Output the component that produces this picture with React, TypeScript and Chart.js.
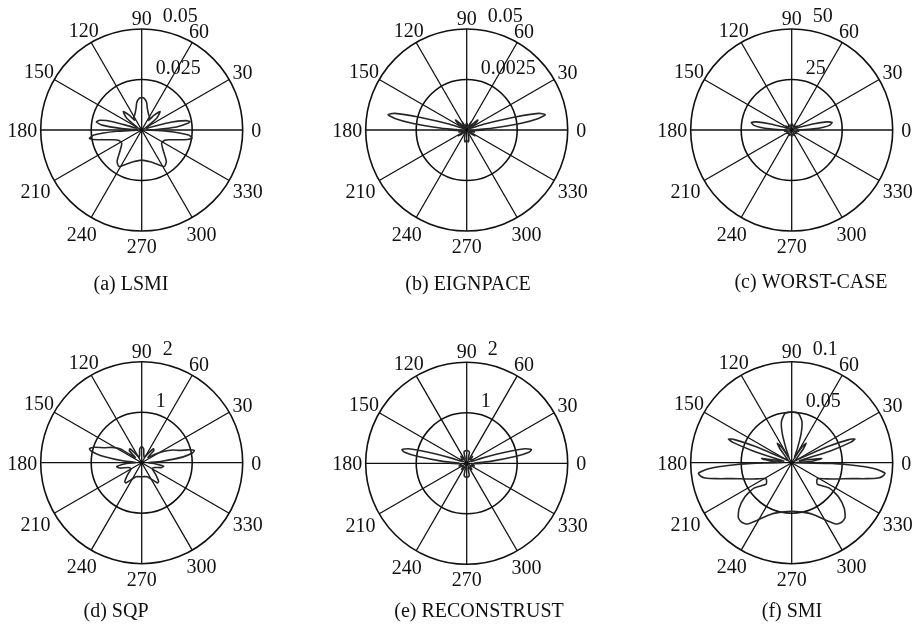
import React, { useEffect, useRef } from 'react';
import { Chart, registerables } from 'chart.js';

Chart.register(...registerables);

// ---------- data ----------
const angleTicks = [0, 30, 60, 90, 120, 150, 180, 210, 240, 270, 300, 330];

// (a) LSMI
const lsmiAngles = [0, 2, 5, 8, 10, 12, 15, 20, 30, 38, 45, 50, 54, 58, 66, 75, 80, 86, 90, 94, 100, 105, 114, 122, 126, 130, 135, 142, 150, 160, 164, 167, 170, 173, 176, 180, 183, 186, 189, 191, 194, 199, 205, 214, 224, 232, 238, 245, 255, 270, 285, 295, 302, 308, 316, 326, 336, 341, 346, 349, 351, 354, 357, 360];
const lsmiGain = [0.002, 0.0074, 0.0173, 0.0228, 0.0243, 0.0223, 0.0149, 0.0025, 0.0025, 0.0094, 0.0129, 0.0094, 0.0059, 0.0074, 0.0084, 0.0109, 0.0139, 0.0158, 0.0161, 0.0158, 0.0139, 0.0109, 0.0084, 0.0074, 0.0059, 0.0094, 0.0129, 0.0094, 0.0025, 0.0025, 0.0149, 0.0213, 0.0228, 0.0198, 0.0099, 0.002, 0.0124, 0.0238, 0.0262, 0.0248, 0.0198, 0.0149, 0.0124, 0.0119, 0.0149, 0.0198, 0.0213, 0.0188, 0.0163, 0.0149, 0.0163, 0.0188, 0.0213, 0.0198, 0.0149, 0.0119, 0.0124, 0.0149, 0.0198, 0.0238, 0.0252, 0.0233, 0.0124, 0.002];

// (b) EIGNPACE
const eigAngles = [0, 2, 4, 7, 9, 11, 13, 15, 18, 22, 28, 35, 42, 48, 55, 62, 70, 80, 90, 100, 110, 118, 125, 132, 138, 145, 152, 158, 162, 165, 167, 169, 171, 173, 176, 178, 180, 182, 186, 195, 205, 215, 225, 240, 255, 262, 268, 272, 278, 285, 300, 315, 325, 335, 345, 354, 358, 360];
const eigGain = [0.0089, 0.005, 0.0124, 0.0272, 0.0356, 0.0396, 0.0366, 0.0248, 0.0099, 0.003, 0.0015, 0.005, 0.0074, 0.003, 0.0015, 0.0045, 0.0015, 0.0025, 0.0035, 0.0025, 0.0015, 0.0045, 0.0015, 0.003, 0.0074, 0.005, 0.0015, 0.003, 0.0099, 0.0248, 0.0366, 0.0396, 0.0356, 0.0272, 0.0124, 0.005, 0.0089, 0.005, 0.002, 0.004, 0.0015, 0.005, 0.002, 0.0015, 0.004, 0.0059, 0.0054, 0.0054, 0.0059, 0.004, 0.0015, 0.002, 0.005, 0.0015, 0.004, 0.002, 0.005, 0.0089];

// (c) WORST-CASE
const worstAngles = [0, 1, 3, 5, 7, 9, 10.5, 13, 16, 20, 25, 35, 45, 60, 75, 90, 105, 120, 135, 145, 155, 160, 164, 167, 169.5, 171, 173, 175, 177, 179, 180, 190, 200, 215, 230, 245, 260, 270, 280, 295, 310, 325, 340, 350, 360];
const worstGain = [2.5, 5, 10.9, 15.8, 18.8, 19.8, 20.3, 17.8, 10.9, 4, 2, 3.5, 2, 3, 2, 3.5, 2, 3, 2, 3.5, 2, 4, 10.9, 17.8, 20.3, 19.8, 18.8, 15.8, 10.9, 5, 2.5, 3.5, 2, 3, 2, 3, 2, 3.5, 2, 3, 2, 3, 2, 3.5, 2.5];

// (d) SQP
const sqpAngles = [0, 4, 8, 11, 13, 15, 18, 22, 27, 33, 40, 45, 50, 56, 65, 75, 82, 90, 98, 105, 115, 124, 130, 136, 142, 147, 153, 158, 162, 165, 167, 170, 174, 178, 183, 189, 194, 200, 210, 220, 228, 232, 238, 248, 260, 270, 280, 292, 302, 308, 312, 320, 330, 340, 346, 351, 355, 360];
const sqpGain = [0.12, 0.4, 0.83, 1.03, 1.07, 0.99, 0.79, 0.67, 0.5, 0.3, 0.16, 0.34, 0.36, 0.2, 0.12, 0.16, 0.28, 0.32, 0.28, 0.16, 0.12, 0.2, 0.36, 0.34, 0.16, 0.5, 0.67, 0.79, 0.99, 1.07, 1.03, 0.83, 0.4, 0.12, 0.3, 0.5, 0.44, 0.28, 0.24, 0.36, 0.5, 0.51, 0.4, 0.3, 0.28, 0.28, 0.28, 0.3, 0.4, 0.51, 0.5, 0.36, 0.24, 0.28, 0.4, 0.44, 0.28, 0.12];

// (e) RECONSTRUST
const recAngles = [0, 2, 5, 8, 10, 12, 14, 16, 19, 23, 30, 40, 50, 60, 72, 76, 82, 90, 98, 104, 108, 120, 130, 140, 150, 157, 161, 164, 166, 168, 170, 172, 175, 178, 180, 182, 190, 200, 215, 230, 245, 254, 258, 263, 270, 277, 282, 286, 295, 310, 325, 340, 350, 358, 360];
const recGain = [0.34, 0.16, 0.5, 0.99, 1.25, 1.31, 1.19, 0.79, 0.3, 0.1, 0.16, 0.1, 0.18, 0.08, 0.1, 0.22, 0.25, 0.25, 0.25, 0.22, 0.1, 0.08, 0.18, 0.1, 0.16, 0.1, 0.3, 0.79, 1.19, 1.31, 1.25, 0.99, 0.5, 0.16, 0.34, 0.16, 0.1, 0.16, 0.08, 0.16, 0.08, 0.1, 0.24, 0.27, 0.27, 0.27, 0.24, 0.1, 0.08, 0.16, 0.08, 0.16, 0.1, 0.16, 0.34];

// (f) SMI
const smiAngles = [0, 4, 8, 11, 14, 17, 19, 20.5, 22, 24, 27, 32, 40, 46, 50, 53.5, 57, 61, 65, 68, 72, 76, 82, 90, 98, 104, 108, 112, 115, 119, 123, 126.5, 130, 134, 140, 148, 153, 156, 158, 159.5, 161, 163, 166, 169, 172, 176, 179, 181, 182, 183, 184.5, 186.5, 188.5, 190, 192, 195, 200, 205, 212, 220, 214, 216, 221, 226, 230, 234, 240, 248, 258, 270, 282, 292, 300, 306, 310, 314, 319, 324, 326, 320, 328, 335, 340, 345, 348, 350, 351.5, 353.5, 355.5, 357, 358, 359, 360];
const smiGain = [0.003, 0.02, 0.03, 0.015, 0.008, 0.04, 0.061, 0.067, 0.061, 0.04, 0.012, 0.004, 0.006, 0.01, 0.018, 0.024, 0.018, 0.006, 0.008, 0.015, 0.03, 0.042, 0.049, 0.0505, 0.049, 0.042, 0.03, 0.015, 0.008, 0.006, 0.018, 0.024, 0.018, 0.01, 0.006, 0.004, 0.012, 0.04, 0.061, 0.067, 0.061, 0.04, 0.015, 0.008, 0.03, 0.02, 0.01, 0.04, 0.056, 0.071, 0.085, 0.093, 0.091, 0.087, 0.076, 0.061, 0.047, 0.038, 0.03, 0.033, 0.045, 0.057, 0.069, 0.076, 0.077, 0.075, 0.065, 0.055, 0.05, 0.048, 0.05, 0.055, 0.065, 0.075, 0.077, 0.076, 0.069, 0.057, 0.045, 0.033, 0.03, 0.038, 0.047, 0.061, 0.076, 0.087, 0.091, 0.093, 0.085, 0.071, 0.056, 0.04, 0.003];

const titles = ['(a) LSMI', '(b) EIGNPACE', '(c) WORST-CASE', '(d) SQP', '(e) RECONSTRUST', '(f) SMI'];
const rMaxValues = [0.05, 0.05, 50, 2, 2, 0.1];
const ringValues = [[0.025, 0.05], [0.025, 0.05], [25, 50], [1, 2], [1, 2], [0.05, 0.1]];
const ringLabels = [['0.025', '0.05'], ['0.0025', '0.05'], ['25', '50'], ['1', '2'], ['1', '2'], ['0.05', '0.1']];
const seriesAngles = [lsmiAngles, eigAngles, worstAngles, sqpAngles, recAngles, smiAngles];
const seriesGain = [lsmiGain, eigGain, worstGain, sqpGain, recGain, smiGain];

// ---------- layout ----------
const CELL_W = 306;
const CELL_H = 314;
const R = 101;
const cellX = [0, 307, 614, 0, 307, 614];
const cellY = [0, 0, 0, 314, 314, 314];
const centerX = [141.7, 466.7, 791.7, 141.7, 466.7, 791.7];
const centerY = [130, 130, 130, 462.7, 463.3, 462.7];
const titleX = [131, 468, 811, 116, 479, 792];
const titleY = [290, 290, 288, 617, 617, 617];

const FONT = '20px "Liberation Serif", "Times New Roman", serif';
const INK = '#111111';

function geom(chart: any, rMax: number) {
  const xs = chart.scales.x;
  const ys = chart.scales.y;
  const cx = xs.getPixelForValue(0);
  const cy = ys.getPixelForValue(0);
  const k = (xs.getPixelForValue(rMax) - cx) / rMax; // pixels per unit
  return { cx, cy, k };
}

const polarGrid = {
  id: 'polarGrid',
  beforeDatasetsDraw(chart: any, _args: any, opts: any) {
    const { ctx } = chart;
    const { cx, cy, k } = geom(chart, opts.rMax);
    const Rp = opts.rMax * k;
    ctx.save();
    ctx.strokeStyle = INK;
    ctx.lineWidth = 1.6;
    opts.rings.forEach((v: number) => {
      ctx.beginPath();
      ctx.arc(cx, cy, v * k, 0, Math.PI * 2);
      ctx.stroke();
    });
    ctx.lineWidth = 1.3;
    angleTicks.forEach((a) => {
      const t = (a * Math.PI) / 180;
      ctx.beginPath();
      ctx.moveTo(cx, cy);
      ctx.lineTo(cx + Rp * Math.cos(t), cy - Rp * Math.sin(t));
      ctx.stroke();
    });
    ctx.restore();
  },
  afterDatasetsDraw(chart: any, _args: any, opts: any) {
    const { ctx } = chart;
    const { cx, cy, k } = geom(chart, opts.rMax);
    const Rp = opts.rMax * k;
    ctx.save();
    ctx.fillStyle = INK;
    ctx.font = FONT;
    ctx.textBaseline = 'alphabetic';
    ctx.textAlign = 'center';
    angleTicks.forEach((a) => {
      const t = (a * Math.PI) / 180;
      const txt = String(a);
      const hw = ctx.measureText(txt).width / 2;
      const off = 11 + 0.5 * hw * Math.abs(Math.cos(t)) + (Math.sin(t) < -0.1 ? 4 : 0);
      const lx = cx + (Rp + off) * Math.cos(t);
      const ly = cy - (Rp + off) * Math.sin(t);
      ctx.fillText(txt, lx, ly + 7);
    });
    ctx.textAlign = 'left';
    const c82 = Math.cos((82 * Math.PI) / 180);
    opts.rings.forEach((v: number, i: number) => {
      const r = v * k;
      ctx.fillText(opts.ringLabels[i], cx + r * c82 + 7, cy - (r * 1.03 + 4));
    });
    ctx.textAlign = 'center';
    ctx.fillText(opts.title, opts.titleX, opts.titleY);
    ctx.restore();
  },
};

function Panel({ idx }: { idx: number }) {
  const ref = useRef<HTMLCanvasElement>(null);
  useEffect(() => {
    const canvas = ref.current;
    if (!canvas) return;
    const rMax = rMaxValues[idx];
    const pts = seriesAngles[idx].map((a, i) => {
      const t = (a * Math.PI) / 180;
      const g = seriesGain[idx][i];
      return { x: g * Math.cos(t), y: g * Math.sin(t) };
    });
    const lcx = centerX[idx] - cellX[idx];
    const lcy = centerY[idx] - cellY[idx];
    const chart = new Chart(canvas, {
      type: 'scatter',
      data: {
        datasets: [
          {
            data: pts,
            showLine: true,
            borderColor: '#262626',
            borderWidth: 1.6,
            pointRadius: 0,
            tension: 0.2,
            fill: false,
          },
        ],
      },
      options: {
        responsive: false,
        animation: false,
        devicePixelRatio: 1,
        layout: {
          padding: {
            left: lcx - R,
            right: CELL_W - lcx - R,
            top: lcy - R,
            bottom: CELL_H - lcy - R,
          },
        },
        scales: {
          x: { type: 'linear', min: -rMax, max: rMax, display: false },
          y: { type: 'linear', min: -rMax, max: rMax, display: false },
        },
        plugins: {
          legend: { display: false },
          tooltip: { enabled: false },
          polarGrid: {
            rMax,
            rings: ringValues[idx],
            ringLabels: ringLabels[idx],
            title: titles[idx],
            titleX: titleX[idx] - cellX[idx],
            titleY: titleY[idx] - cellY[idx],
          },
        } as any,
      },
      plugins: [polarGrid as any],
    });
    return () => chart.destroy();
  }, [idx]);
  return (
    <canvas
      ref={ref}
      width={CELL_W}
      height={CELL_H}
      style={{ position: 'absolute', left: cellX[idx], top: cellY[idx], width: CELL_W, height: CELL_H }}
    />
  );
}

export default function App() {
  return (
    <div
      style={{
        position: 'absolute',
        left: 0,
        top: 0,
        width: 920,
        height: 628,
        overflow: 'hidden',
        background: '#ffffff',
      }}
    >
      {titles.map((_, i) => (
        <Panel key={i} idx={i} />
      ))}
    </div>
  );
}
